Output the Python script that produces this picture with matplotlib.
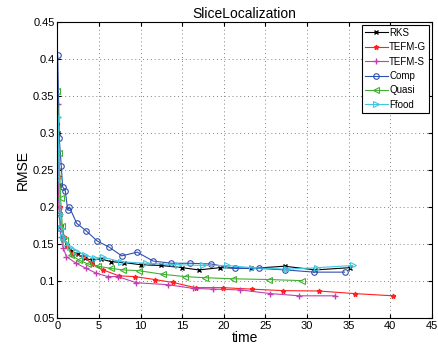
import matplotlib
matplotlib.use('Agg')
import matplotlib.pyplot as plt

plt.rcParams['font.family'] = ['Liberation Sans', 'DejaVu Sans']

# data
rks_x = [0.05, 0.15, 0.3, 0.5, 0.8, 1.2, 1.8, 2.5, 3.3, 4.2, 5.2, 6.5, 8, 10, 12.5, 15, 17, 19.5, 23.3, 27.3, 31, 35.1]
rks_y = [0.30, 0.23, 0.19, 0.17, 0.156, 0.147, 0.14, 0.136, 0.131, 0.128, 0.13, 0.126, 0.125, 0.122, 0.121, 0.118, 0.115, 0.118, 0.117, 0.120, 0.115, 0.118]

tg_x = [0.02, 0.15, 0.3, 0.5, 0.8, 1.2, 1.8, 3.05, 4.2, 5.5, 7.4, 9.3, 11.7, 13.9, 16.6, 19.95, 23.4, 27.1, 31.4, 35.7, 40.3]
tg_y = [0.312, 0.24, 0.2, 0.175, 0.16, 0.148, 0.136, 0.134, 0.123, 0.115, 0.107, 0.106, 0.102, 0.098, 0.091, 0.091, 0.089, 0.087, 0.0865, 0.083, 0.080]

ts_x = [0.1, 0.2, 0.4, 0.7, 1.1, 2.25, 3.5, 4.6, 6.05, 7.26, 9.5, 13.3, 16.35, 18.75, 22, 25.6, 29.05, 33.4]
ts_y = [0.339, 0.2, 0.16, 0.145, 0.133, 0.124, 0.117, 0.111, 0.106, 0.106, 0.0977, 0.095, 0.090, 0.089, 0.088, 0.083, 0.080, 0.080]

comp_x = [0.05, 0.24, 0.48, 0.65, 0.96, 1.25, 1.45, 2.33, 3.45, 4.8, 6.2, 7.74, 9.6, 11.5, 13.7, 15.9, 18.5, 21.3, 24.2, 27.4, 30.85, 34.5]
comp_y = [0.405, 0.293, 0.255, 0.227, 0.222, 0.196, 0.200, 0.178, 0.168, 0.154, 0.146, 0.134, 0.139, 0.127, 0.124, 0.124, 0.123, 0.117, 0.117, 0.115, 0.112, 0.112]

quasi_x = [0.02, 0.2, 0.4, 0.6, 0.9, 1.7, 2.65, 3.7, 4.9, 6.45, 7.9, 9.8, 12.7, 15.35, 17.7, 21.1, 25.4, 29.4]
quasi_y = [0.357, 0.273, 0.212, 0.174, 0.155, 0.135, 0.128, 0.123, 0.120, 0.117, 0.115, 0.114, 0.109, 0.106, 0.1045, 0.103, 0.102, 0.1005]

ffood_x = [0.12, 0.2, 0.35, 0.5, 0.7, 1.05, 1.5, 2.25, 3.3, 4.5, 5.5, 7.7, 10.6, 14.5, 17.5, 20.35, 23.4, 27.6, 31.2, 35.5]
ffood_y = [0.322, 0.239, 0.19, 0.172, 0.159, 0.152, 0.146, 0.141, 0.135, 0.131, 0.132, 0.126, 0.124, 0.122, 0.121, 0.121, 0.118, 0.116, 0.118, 0.121]

fig = plt.figure(figsize=(4.39, 3.49), dpi=100)
ax = fig.add_axes([0.1305, 0.0888, 0.8535, 0.848])

ax.plot(rks_x, rks_y, color='k', marker='x', ms=3, lw=0.8, label='RKS')
ax.plot(tg_x, tg_y, color='#ff2020', marker='*', ms=3.5, lw=0.8, label='TEFM-G')
ax.plot(ts_x, ts_y, color='#c040b0', marker='+', ms=4.5, lw=0.8, label='TEFM-S')
ax.plot(comp_x, comp_y, color='#3050b0', marker='o', ms=4, mfc='none', mew=0.8, lw=0.8, label='Comp')
ax.plot(quasi_x, quasi_y, color='#40b030', marker='<', ms=4, mfc='none', mew=0.8, lw=0.8, label='Quasi')
ax.plot(ffood_x, ffood_y, color='#40c8e0', marker='>', ms=4, mfc='none', mew=0.8, lw=0.8, label='Ffood')

ax.set_xlim(0, 45)
ax.set_ylim(0.05, 0.45)
ax.set_xticks(range(0, 46, 5))
ax.set_yticks([0.05, 0.1, 0.15, 0.2, 0.25, 0.3, 0.35, 0.4, 0.45])
ax.set_yticklabels(['0.05', '0.1', '0.15', '0.2', '0.25', '0.3', '0.35', '0.4', '0.45'])
ax.tick_params(direction='in', top=True, right=True, labelsize=8, length=3, pad=2)
ax.grid(True, linestyle=(0, (1, 3)), color='#808080', lw=0.7)
for s in ax.spines.values():
    s.set_linewidth(0.8)

ax.set_title('SliceLocalization', fontsize=10, pad=3)
ax.set_xlabel('time', fontsize=10, labelpad=0)
ax.set_ylabel('RMSE', fontsize=10, labelpad=2)

leg = ax.legend(loc='upper right', fontsize=7, handlelength=2.4, handletextpad=0.1,
                borderaxespad=0.3, borderpad=0.3, labelspacing=0.45, fancybox=False,
                framealpha=1, edgecolor='k')
leg.get_frame().set_linewidth(0.8)

fig.savefig('out.png', dpi=100)
